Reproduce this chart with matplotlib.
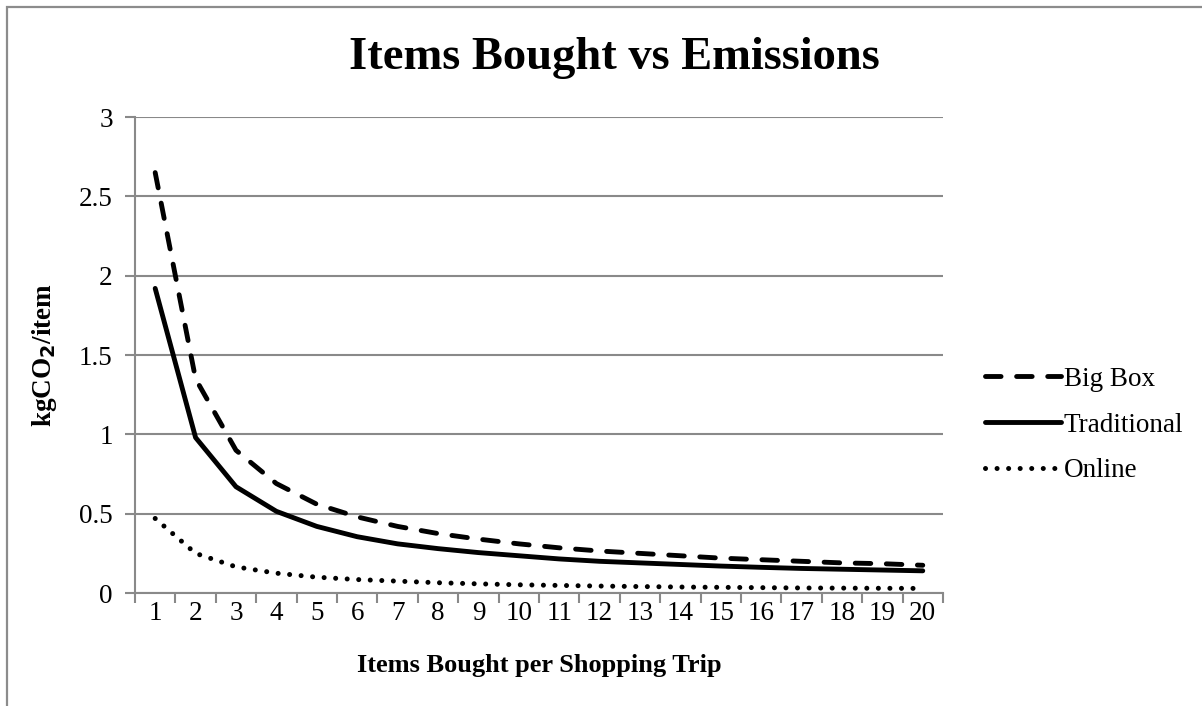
import matplotlib

matplotlib.use("Agg")
import matplotlib.pyplot as plt
from matplotlib.patches import Rectangle

# values (kgCO2 per item)
items = list(range(1, 21))
big_box = [2.65, 1.35, 0.90, 0.69, 0.56, 0.48, 0.42, 0.375, 0.34, 0.31,
           0.285, 0.265, 0.25, 0.235, 0.22, 0.21, 0.20, 0.19, 0.185, 0.175]
traditional = [1.92, 0.98, 0.67, 0.515, 0.42, 0.355, 0.31, 0.28, 0.255, 0.235,
               0.215, 0.20, 0.19, 0.18, 0.17, 0.162, 0.155, 0.15, 0.145, 0.14]
online = [0.47, 0.25, 0.165, 0.125, 0.10, 0.085, 0.075, 0.065, 0.058, 0.052,
          0.048, 0.044, 0.041, 0.038, 0.036, 0.034, 0.032, 0.031, 0.03, 0.029]
series_names = ["Big Box", "Traditional", "Online"]
y_ticks = [0, 0.5, 1, 1.5, 2, 2.5, 3]
y_ticklabels = ["0", "0.5", "1", "1.5", "2", "2.5", "3"]

plt.rcParams["font.family"] = ["Liberation Serif", "DejaVu Serif"]
grid_col = "#898989"

fig = plt.figure(figsize=(12.02, 7.06), dpi=100)
ax = fig.add_axes([0.1123, 0.16, 0.6722, 0.6742])

# chart-area border (only top and left edges fall inside the picture)
fig.patches.append(Rectangle((0.0055, -0.05), 1.2, 1.04, transform=fig.transFigure,
                             fill=False, edgecolor="#8c8c8c", linewidth=1.6))

ax.plot(items, big_box, color="black", lw=3.5, linestyle=(0, (3.2, 3.2)),
        dash_capstyle="round", label=series_names[0])
ax.plot(items, traditional, color="black", lw=3.5, solid_capstyle="round",
        label=series_names[1])
ax.plot(items, online, color="black", lw=3.6, linestyle=(0, (0.01, 2.3)),
        dash_capstyle="round", label=series_names[2])

ax.set_xlim(0.5, 20.5)
ax.set_ylim(0, 3)
ax.set_yticks(y_ticks)
ax.set_yticklabels(y_ticklabels)
ax.set_xticks(items)
ax.set_xticks([i + 0.5 for i in range(0, 21)], minor=True)
ax.tick_params(axis="x", which="major", length=0, labelsize=19.5, pad=6)
ax.tick_params(axis="x", which="minor", length=7, width=1.5, color=grid_col, direction="out")
ax.tick_params(axis="y", length=7, width=1.5, color=grid_col, labelsize=19.5, pad=9)

ax.grid(axis="y", color=grid_col, linewidth=1.5)
ax.set_axisbelow(True)
for s in ["top", "right"]:
    ax.spines[s].set_visible(False)
for s in ["left", "bottom"]:
    ax.spines[s].set_color(grid_col)
    ax.spines[s].set_linewidth(1.5)

ax.set_xlabel("Items Bought per Shopping Trip", fontsize=19, fontweight="bold", labelpad=20)
ax.set_ylabel(r"kgCO$_\mathbf{2}$/item", fontsize=19.5, fontweight="bold", labelpad=14)

fig.text(0.511, 1 - 58 / 706, "Items Bought vs Emissions", ha="center", va="center",
         fontsize=33.5, fontweight="bold")

ax.legend(loc="center left", bbox_to_anchor=(1.022, 0.353), frameon=False, fontsize=19.5,
          handlelength=2.8, handletextpad=0.1, labelspacing=0.76)

fig.savefig("out.png", dpi=100)
